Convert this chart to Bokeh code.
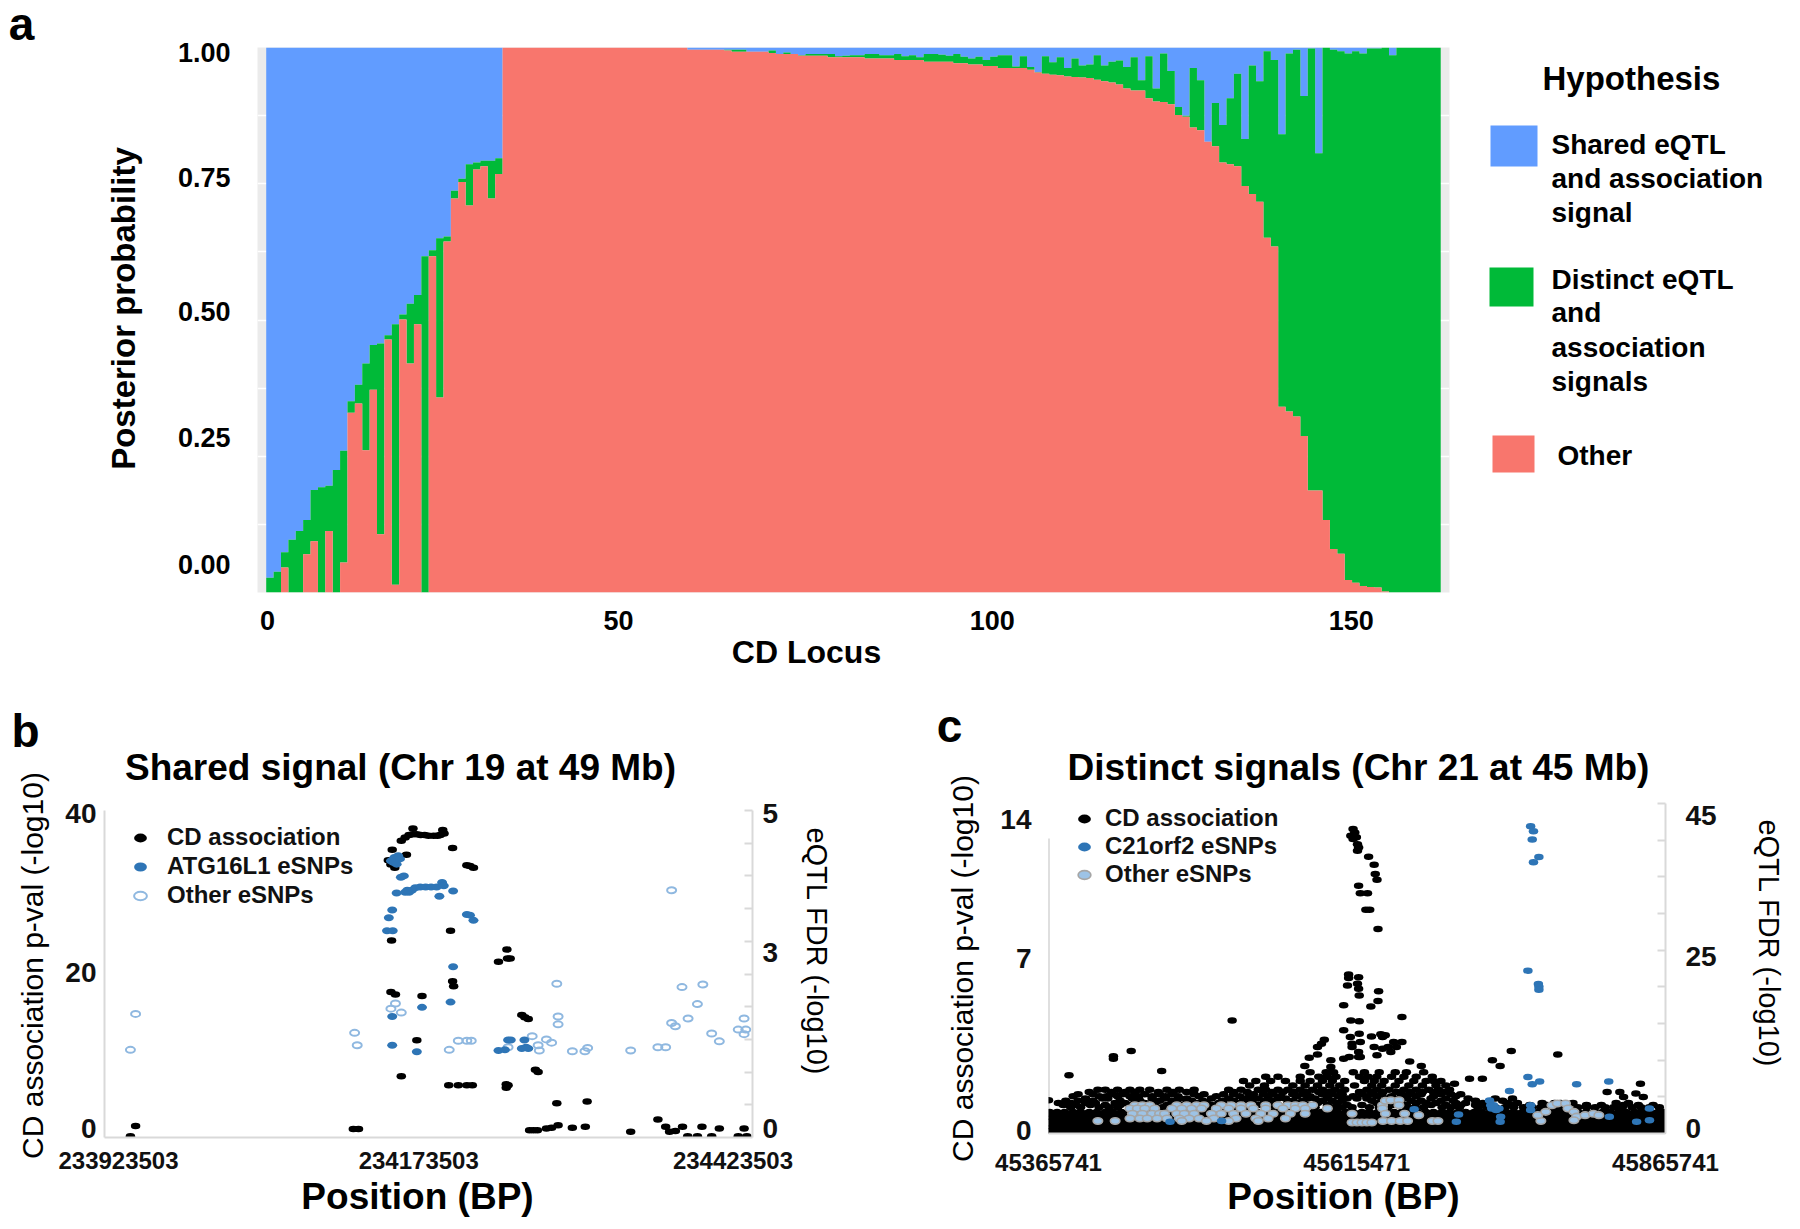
from bokeh.plotting import figure
from bokeh.models import (Label, BoxAnnotation, Range1d, LinearAxis, FixedTicker, Legend, LegendItem)
from bokeh.layouts import row, column
from bokeh.embed import file_html
from bokeh.resources import INLINE
import math

FONT = "Liberation Sans"
C_BLUE, C_GREEN, C_RED = "#619CFF", "#00BA38", "#F8766D"
C_ESNP, C_OTHER, C_AXIS = "#2E75B6", "#9DC3E6", "#D9D9D9"

# ---------- panel a ----------
other_top = [
 0,0,.046,0,0,.07,.094,0,.113,0,
 .055,.33,.347,.261,.372,.107,.464,.014,.501,.42,
 .492,0,.617,.358,.644,.723,.753,.71,.776,.782,
 .723,.768,1,1,1,1,1,1,1,1,
 1,1,1,1,1,1,1,1,1,1,
 1,1,1,1,1,1,1,.996,.996,.996,
 .996,.996,.9945,.992,.992,.992,.992,.992,.99,.988,
 .988,.988,.985,.985,.985,.985,.982,.982,.982,.982,
 .982,.98,.98,.98,.98,.977,.977,.977,.977,.974,
 .974,.974,.974,.971,.971,.969,.969,.966,.966,.9625,
 .9625,.9625,.9625,.959,.954,.952,.950,.949,.947,.946,
 .945,.944,.941,.938,.936,.932,.925,.921,.921,.907,
 .901,.900,.896,.876,.873,.853,.848,.827,.819,.789,
 .786,.782,.746,.731,.717,.651,.635,.341,.332,.323,
 .287,.187,.187,.133,.080,.071,.023,.018,.012,.010,
 .009,.002,0,0,0,0,0,0,0]
distinct_top = [
 .027,.038,.074,.097,.113,.133,.188,.193,.196,.225,
 .26,.351,.381,.42,.454,.457,.472,.492,.51,.53,
 .546,.617,.628,.65,.653,.737,.759,.786,.789,.792,
 .792,.797,1,1,1,1,1,1,1,1,
 1,1,1,1,1,1,1,1,1,1,
 1,1,1,1,1,1,1,.996,.996,.996,
 .996,.996,.996,.996,.996,.992,.992,.992,.9945,.988,
 .991,.988,.986,.988,.988,.988,.988,.984,.985,.986,
 .986,.988,.988,.986,.986,.988,.984,.986,.982,.988,
 .988,.9865,.985,.988,.983,.98,.983,.977,.983,.986,
 .986,.965,.984,.964,.955,.984,.973,.982,.9625,.98,
 .967,.969,.986,.967,.974,.976,.964,.982,.940,.984,
 .925,.989,.957,.891,.875,.9625,.940,.827,.898,.858,
 .907,.952,.832,.967,.938,.993,.977,.841,.989,.996,
 .911,.998,.806,1,.996,.993,.989,.993,.989,.998,
 .998,1,.986,1,1,1,1,1,1]
locus_labels = {0.18: "0", 47.7: "50", 98.3: "100", 146.9: "150"}
prob_labels = {0.991: "1.00", 0.762: "0.75", 0.516: "0.50", 0.284: "0.25", 0.052: "0.00"}
prob_grid = [0.125, 0.25, 0.375, 0.5, 0.625, 0.75, 0.875]

# ---------- panel b (x in kb after 233923503) ----------
b_start = 233923503
b_cd_x = [20,24,192,196,222,233,219,221,224,223,229,232,235,238,238,241,244,247,250,254,257,259,261,262,
          268.6,279.6,282,284.7,267,221.5,310.5,304,311,313,268.6,269.4,221,224.5,245,322,324.3,327,241,229,
          332.5,334.6,265.6,273,279.6,283.8,310,310,311.4,349,372.4,328,331,334,341,345,350,361,371,406,427,
          433,436,440.5,446,450,457.5,461,468.5,474.4,489,495.6,493.5]
b_cd_y = [.16,1.4,1.05,1.05,35.2,34.6,33.9,33.4,33,33.7,36.3,36.7,37,37.8,37.1,37.1,37,37,36.9,36.9,36.9,37,37.6,37.2,
          35.4,33.3,33.2,33,25.3,24.1,23,21.5,21.9,21.9,19.1,18.5,17.8,17.5,17.3,15,14.7,14.5,11.9,7.5,
          8.3,8,6.4,6.4,6.4,6.4,6.5,6.1,6.4,4.2,4.4,.9,.9,.9,1.1,1.2,1.5,1.2,1.3,.7,2.2,
          1.3,.7,.8,1.3,.16,.16,1.3,.16,1.1,.16,.16,1.1]
b_atg_x = [221,223.7,226.6,222.8,225.4,228,228.7,231,225.4,232,235,237.2,239.8,243.6,247.8,252,256.3,260.5,258.4,269,261.8,233.6,
           222,219.4,218,222.4,279.6,282,284.7,269,267,245,222,222,241,304,311.4,313.5,309,324,325.3,322,327]
b_atg_y = [4.23,4.28,4.31,4.21,4.18,4.26,3.98,4.0,3.74,3.75,3.75,3.78,3.82,3.83,3.83,3.83,3.83,3.9,3.69,3.77,3.85,3.78,
           3.48,3.36,3.16,3.16,3.41,3.4,3.32,2.61,2.07,1.99,1.85,1.41,1.31,1.33,1.49,1.49,1.34,1.49,1.38,1.36,1.36]
b_oth_x = [20,24,193,195,221,224.5,229,266,273,279.6,283,311.4,330,334.6,335.5,341,345,349,350,350,361,370.7,372.8,
           406,427,433,437.6,437.6,440.5,445.6,450.3,457.5,461.7,468.5,474.4,489,493.5,494.8,493.5]
b_oth_y = [1.34,1.89,1.6,1.41,1.97,2.05,1.91,1.34,1.48,1.48,1.48,1.38,1.55,1.41,1.33,1.5,1.45,2.35,1.85,1.73,1.32,1.32,1.37,
           1.33,1.38,1.38,3.78,1.75,1.7,2.3,1.82,2.04,2.34,1.59,1.47,1.65,1.82,1.65,1.58]
b_pos_labels = {233934314: "233923503", 234165974: "234173503", 234408446: "234423503"}
b_left_labels = {39.6: "40", 20.2: "20", 1.1: "0"}
b_right_labels = {4.95: "5", 2.83: "3", 0.14: "0"}
b_right_ticks = [0.5, 1, 1.5, 2, 2.5, 3, 3.5, 4, 4.5, 5]

# ---------- panel c (x in kb after 45365741) ----------
c_start = 45365741
c_peak_x = [246.8,248.2,245,249.5,246.8,250.4,251.3,250.4,259.4,263.9,264.8,266.2,251.3,252.7,258.5,257.2,260.3,267,
            243.2,243.2,242.3,251.3,250.4,251.3,251.8,267.5,267,261.2,239.2,286.4,245,251.8,148.8,239.2,251.8,244.6,261.7,269.3,
            272.9,270.7,223.5,221.2,218,246,246,263.9,252.7,279.7,286.4,275.2,281.9,270.7,277.4,251.3,251.3,239.2,243.7,252.7,
            266.2,211.3,218,67,52.6,52.6,16.6,91.7,292.7,302.1,207.7,228.8,228.8,375,359.7,366,412.7,341.2,351.6,329,479.7,
            452.7,463,466,476,482,0]
c_peak_y = [13.93,13.77,13.62,13.55,13.47,13.24,13.09,12.94,12.66,12.3,11.87,11.61,11.34,10.99,10.99,10.24,10.24,9.36,
            7.27,7.12,6.77,7.15,6.85,6.62,6.32,6.51,6.06,5.81,5.87,5.33,5.17,5.14,5.17,4.72,4.57,4.41,4.44,4.54,
            4.49,4.41,4.29,4.11,3.96,4.11,3.96,3.96,4.19,4.19,4.19,3.96,3.96,3.88,3.73,3.73,3.5,3.42,3.5,3.5,
            3.58,3.47,3.62,3.77,3.53,3.42,2.66,2.86,3.3,3.09,3.09,3.35,3.04,3.77,3.35,3.09,3.61,2.51,2.51,2.28,2.28,
            1.9,1.9,1.67,1.83,1.67,1.52]
c_row_28 = [212,225,231,247,256,268,281,290,304]
c_row_26 = [176,186,204,219,226,233,252,259,266,278,288,298,311]
c_row_24 = [158,168,180,192,204,212,222,230,240,256,264,272,284,296,306,312,318]
c_row_22 = [163,175,198,208,218,228,236,248,262,270,281,292,303,314,322]
c_row_20 = [40,46,56,66,74,82,96,106,118,146,156,170,176,186,194,204,214,222,232,240,258,266,276,288,298,308,316,325]
c_row_19 = [33,51,62,70,89,101,112,150,161,181,190,199,209,219,227,237,252,262,271,282,293,303,312,320]
c_row_18 = [24,36,52,60,78,90,100,118,126,142,150,166,174,182,198,206,222,230,238,254,262,270,286,294,302,318,326,334]
c_row_17 = [20,41,47,56,66,73,84,95,105,122,136,155,163,178,188,201,212,226,235,247,258,266,278,290,298,312,330]
c_row_16 = [30,44,48,68,84,94,106,112,132,146,158,170,186,192,210,216,226,242,250,258,274,280,290,310,322,340,362,376]
c_row_15 = [14,24,36,58,74,90,100,116,125,141,150,165,175,181,198,206,222,230,238,262,270,285,294,302,318,328,346,368]
c_row_14 = [8,18,30,38,54,62,70,78,86,104,112,120,128,138,154,162,178,194,202,218,234,266,282,298,306,314,330,338,352,372,380,400,410,415,425,460,470]
c_row_13 = [12,22,34,46,58,66,82,96,108,116,132,146,158,170,186,198,210,226,242,254,272,278,290,310,322,334,346,358,376,390,404,418,436,448,466,478,490]
c_row_12 = [18,26,41,49,56,71,78,92,100,107,122,129,136,151,158,165,180,187,195,209,216,231,238,246,260,268,275,290,297,304,319,326,333,348,355,362,370,377,385,392,399,407,414,421,429,436,443,451,458,465,473,480,487,495]
c_band_a = [1,7,13,20,26,33,39,46,52,59,65,72,78,85,91,98,104,111,117,124,130,137,143,150,156,163,169,176,182,189,195,202,208,215,221,228,234,241,247,254,
            260,267,273,280,286,293,299,306,312,319,325,332,338,345,351,358,364,371,377,384,390,397,403,410,416,423,429,436,442,449,455,462,468,475,481,488,494,499]
c_band_b = [4,10,17,23,30,36,43,49,56,62,69,75,82,88,95,101,108,114,121,127,134,140,147,153,160,166,173,179,186,192,199,205,212,218,225,231,238,244,251,257,
            264,270,277,283,290,296,303,309,316,322,329,335,342,348,355,361,368,374,381,387,394,400,407,413,420,426,433,439,446,452,459,465,472,478,485,491,497]
c_gene_x = [390.7,393,392,397.4,393,388.5,397,397.4,397.4,388.5,392,398,428,454,373.6,390.7,390.7,357.4,358.4,359.2,362.8,360.6,365,366.4,366,
            296.3,332.3,330.5,454.5,487,476.6,487,98.5,140.3]
c_gene_y = [41.9,41.2,40.1,37.7,37,22.2,20.4,20,19.6,7.7,6.7,7.1,6.7,7.1,5.8,3.85,3.2,4.5,3.85,3.4,3.2,3.85,3.4,2.3,1.6,
            3.3,2.6,1.6,2.3,3.4,1.6,1.8,1.6,1.7]
c_oth_x = [70,76,82,104,112,120,126,140,148,156,164,176,186,194,200,206,214,
           66,72,78,86,100,108,116,124,136,146,156,166,176,190,200,208,226,
           68,76,84,90,94,104,110,118,132,140,150,160,172,182,196,208,
           66,74,80,88,96,106,114,122,134,152,168,178,192,
           40,54,108,128,146,170,
           246,246,250,254,258,262,270.7,273,277.4,284,284,270.7,273,271,278,285,291,288.6,300,311,315.6,
           399,396.5,403,408,412.3,419,421,425.8,428,425.8,434.8,441.5,446]
c_oth_y = [3.85]*17 + [3.4]*17 + [2.7]*16 + [2.05]*13 + [1.7]*6 + [
           2.7,1.5,1.5,1.5,1.5,1.5,3.85,4.45,4.54,4.54,3.85,3.4,2.7,1.7,1.7,1.7,1.7,2.7,2.5,1.7,1.7,
           1.7,2.5,2.95,3.85,4.1,4.1,3.4,2.95,2.3,1.8,2.5,2.7,2.5]
c_pos_labels = {45365742: "45365741", 45615471: "45615471", 45865740: "45865741"}
c_left_labels = {14.37: "14", 8.0: "7", 0.14: "0"}
c_right_labels = {43.4: "45", 24.1: "25", 0.68: "0"}
c_right_ticks = [5, 10, 15, 20, 25, 30, 35, 40, 45]

# ---------- helpers ----------
def text_panel(x0, y0, x1, y1, slack=0):
    """A figure whose frame is its whole canvas, with ranges in page pixels, to hold free-standing texts."""
    p = figure(width=x1 - x0 + slack, height=y1 - y0, output_backend="svg", toolbar_location=None,
               x_axis_type=None, y_axis_type=None, min_border=0, frame_width=x1 - x0 + slack, frame_height=y1 - y0,
               x_range=Range1d(x0, x1 + slack), y_range=Range1d(y1, y0))
    p.outline_line_color = None
    p.grid.visible = False
    return p

def put(p, px, py, txt, size, angle=0, align="center", style="bold"):
    p.add_layout(Label(x=px, y=py, text=txt, text_font=FONT, text_font_size=f"{size}px",
                       text_font_style=style, angle=angle, text_align=align, text_baseline="middle",
                       text_color="black"))

def plot_panel(cx0, cy0, cx1, cy1, L, R, T, B, **kw):
    p = figure(width=cx1 - cx0, height=cy1 - cy0, output_backend="svg", toolbar_location=None,
               frame_width=R - L, frame_height=B - T, min_border_left=L - cx0, min_border_right=cx1 - R,
               min_border_top=T - cy0, min_border_bottom=cy1 - B, **kw)
    p.outline_line_color = None
    return p

# ---------- a ----------
pa = plot_panel(170, 0, 1460, 632, 257, 1449, 47, 592,
                x_range=Range1d(-1.18, 160.19), y_range=Range1d(0, 1), background_fill_color="#EBEBEB")
pa.xgrid.visible = False
pa.ygrid.ticker = FixedTicker(ticks=prob_grid)
pa.ygrid.grid_line_color = "white"
pa.ygrid.grid_line_width = 1.5
n = len(other_top)
edges = list(range(n + 1))
o_top = other_top + other_top[-1:]
d_top = distinct_top + distinct_top[-1:]
pa.varea_step(x=edges, y1=d_top, y2=[1] * (n + 1), step_mode="after", fill_color=C_BLUE)
pa.varea_step(x=edges, y1=o_top, y2=d_top, step_mode="after", fill_color=C_GREEN)
pa.varea_step(x=edges, y1=[0] * (n + 1), y2=o_top, step_mode="after", fill_color=C_RED)
pa.xaxis[0].ticker = FixedTicker(ticks=list(locus_labels))
pa.xaxis[0].major_label_overrides = locus_labels
pa.yaxis[0].ticker = FixedTicker(ticks=list(prob_labels))
pa.yaxis[0].major_label_overrides = prob_labels
for ax, so in ((pa.xaxis[0], 12), (pa.yaxis[0], 21)):
    ax.major_tick_line_color = None
    ax.minor_tick_line_color = None
    ax.axis_line_color = None
    ax.major_label_text_font = FONT
    ax.major_label_text_font_size = "27px"
    ax.major_label_text_font_style = "bold"
    ax.major_label_text_color = "black"
    ax.major_label_standoff = so

t_al = text_panel(0, 0, 170, 700)
put(t_al, 21, 23, "a", 46)
put(t_al, 123, 308, "Posterior probability", 33, angle=math.pi / 2)
t_ab = text_panel(257, 632, 1449, 700)
put(t_ab, 806, 651, "CD Locus", 32)
t_ar = text_panel(1460, 0, 1792, 700)
put(t_ar, 1542, 78, "Hypothesis", 33, align="left")
for top, bot, l, r, col in ((125, 166, 1490, 1537, C_BLUE), (267, 306, 1489, 1533, C_GREEN), (435, 472, 1492, 1534, C_RED)):
    t_ar.add_layout(BoxAnnotation(left=l, right=r, top=top, bottom=bot, fill_color=col, fill_alpha=1, line_color=None))
for y, t in ((144, "Shared eQTL"), (178, "and association"), (212, "signal"), (279, "Distinct eQTL"),
             (312, "and"), (347, "association"), (381, "signals")):
    put(t_ar, 1551, y, t, 28, align="left")
put(t_ar, 1557, 455, "Other", 28, align="left")

# ---------- shared for b, c ----------
def style_axis(ax, labels, standoff, size):
    ax.ticker = FixedTicker(ticks=list(labels))
    ax.major_label_overrides = labels
    ax.major_tick_line_color = None
    ax.minor_tick_line_color = None
    ax.major_tick_out = 0
    ax.major_tick_in = 0
    ax.minor_tick_out = 0
    ax.minor_tick_in = 0
    ax.major_label_text_font = FONT
    ax.major_label_text_font_size = size
    ax.major_label_text_font_style = "bold"
    ax.major_label_text_color = "#111111"
    ax.major_label_standoff = standoff
    ax.axis_line_color = C_AXIS
    ax.axis_line_width = 2

def right_axis(p, labels, ticks, standoff):
    ax = LinearAxis(y_range_name="fdr")
    style_axis(ax, labels, standoff, "28px")
    ax.ticker = FixedTicker(ticks=list(labels), minor_ticks=ticks)
    ax.minor_tick_line_color = C_AXIS
    ax.minor_tick_line_width = 2
    ax.minor_tick_in = 8
    p.add_layout(ax, "right")

def dots(p, x, y, color, line=None, w=9.5, h=6.5, rng=None, fill=True, lw=1.6):
    kw = {"y_range_name": rng} if rng else {}
    return p.ellipse(x=x, y=y, width=w, height=h, width_units="screen", height_units="screen",
                     fill_color=color if fill else None, line_color=line, line_width=lw if line else 0, **kw)

def legend(p, items, x, y, spacing, standoff):
    lg = Legend(items=[LegendItem(label=t, renderers=[r]) for t, r in items], location=(x, y),
                background_fill_alpha=0, border_line_color=None, padding=0, margin=0, spacing=spacing,
                glyph_width=16, glyph_height=25, label_height=25, label_standoff=standoff,
                label_text_font=FONT, label_text_font_size="24px", label_text_font_style="bold",
                label_text_color="#111111")
    p.add_layout(lg, "center")

# ---------- b ----------
pb = plot_panel(56, 790, 800, 1175, 104, 752, 810, 1137,
                x_range=Range1d(b_start, b_start + 500000), y_range=Range1d(0, 40))
pb.grid.visible = False
pb.extra_y_ranges = {"fdr": Range1d(0, 5)}
style_axis(pb.yaxis[0], b_left_labels, 8, "28px")
style_axis(pb.xaxis[0], b_pos_labels, 14, "24px")
right_axis(pb, b_right_labels, b_right_ticks, 10)
r_cd = dots(pb, [b_start + v * 1000 for v in b_cd_x], b_cd_y, "black")
r_oth = dots(pb, [b_start + v * 1000 for v in b_oth_x], b_oth_y, None, line="#8FB8E0", w=9, h=6, rng="fdr", fill=False, lw=2)
r_atg = dots(pb, [b_start + v * 1000 for v in b_atg_x], b_atg_y, C_ESNP, w=10, h=7, rng="fdr")
legend(pb, [("CD association", r_cd), ("ATG16L1 eSNPs", r_atg), ("Other eSNPs", r_oth)], 28, 228, 1, 19)

t_bl = text_panel(0, 700, 56, 1221)
put(t_bl, 25, 730, "b", 46)
put(t_bl, 32, 965, "CD association p-val (-log10)", 30, angle=math.pi / 2, style="normal")
t_bt = text_panel(104, 700, 752, 790, slack=48)
put(t_bt, 400, 767, "Shared signal (Chr 19 at 49 Mb)", 37)
t_bb = text_panel(104, 1175, 752, 1221, slack=48)
put(t_bb, 417, 1196, "Position (BP)", 37)

# ---------- c ----------
pc = plot_panel(985, 790, 1740, 1175, 1048, 1665, 803, 1133,
                x_range=Range1d(c_start, c_start + 500000), y_range=Range1d(0, 15.1))
pc.grid.visible = False
pc.extra_y_ranges = {"fdr": Range1d(0, 45)}
style_axis(pc.yaxis[0], c_left_labels, 17, "28px")
pc.yaxis[0].axis_line_color = None
style_axis(pc.xaxis[0], c_pos_labels, 20, "24px")
right_axis(pc, c_right_labels, c_right_ticks, 20)
pc.segment(x0=[c_start], y0=[0], x1=[c_start], y1=[13.5], line_color="#BFBFBF", line_width=2)
c_x, c_y = list(c_peak_x), list(c_peak_y)
for vals, yv in ((c_row_28, 2.8), (c_row_26, 2.6), (c_row_24, 2.4), (c_row_22, 2.2), (c_row_20, 2.0), (c_row_19, 1.9),
                 (c_row_18, 1.8), (c_row_17, 1.7), (c_row_16, 1.6), (c_row_15, 1.5), (c_row_14, 1.4), (c_row_13, 1.3), (c_row_12, 1.2)):
    c_x += vals
    c_y += [yv] * len(vals)
r_cd2 = dots(pc, [c_start + v * 1000 for v in c_x], c_y, "black")
b_x, b_y = [], []
for vals, yv in ((c_band_a, 0.95), (c_band_b, 0.72), (c_band_a, 0.5), (c_band_b, 0.28), (c_band_a, 0.08)):
    b_x += vals
    b_y += [yv] * len(vals)
dots(pc, [c_start + v * 1000 for v in b_x], b_y, "black", w=11, h=8)
r_oth2 = dots(pc, [c_start + v * 1000 for v in c_oth_x], c_oth_y, C_OTHER, line="#A6A6A6", rng="fdr")
r_gene = dots(pc, [c_start + v * 1000 for v in c_gene_x], c_gene_y, C_ESNP, rng="fdr")
legend(pc, [("CD association", r_cd2), ("C21orf2 eSNPs", r_gene), ("Other eSNPs", r_oth2)], 28, 245, 0, 13)

t_m = text_panel(800, 700, 985, 1221)
put(t_m, 816, 951, "eQTL FDR (-log10)", 29, angle=-math.pi / 2, style="normal")
put(t_m, 949, 725, "c", 46)
put(t_m, 962, 968, "CD association p-val (-log10)", 30, angle=math.pi / 2, style="normal")
t_ct = text_panel(1048, 700, 1665, 790, slack=63)
put(t_ct, 1358, 767, "Distinct signals (Chr 21 at 45 Mb)", 37)
t_cb = text_panel(1048, 1175, 1665, 1221, slack=63)
put(t_cb, 1343, 1196, "Position (BP)", 37)
t_cr = text_panel(1740, 700, 1792, 1221)
put(t_cr, 1768, 943, "eQTL FDR (-log10)", 29, angle=-math.pi / 2, style="normal")

layout = column(
    row(t_al, column(pa, t_ab, spacing=0), t_ar, spacing=0),
    row(t_bl, column(t_bt, pb, t_bb, spacing=0), t_m, column(t_ct, pc, t_cb, spacing=0), t_cr, spacing=0),
    spacing=0)
open("out.html", "w").write(file_html(layout, INLINE))
